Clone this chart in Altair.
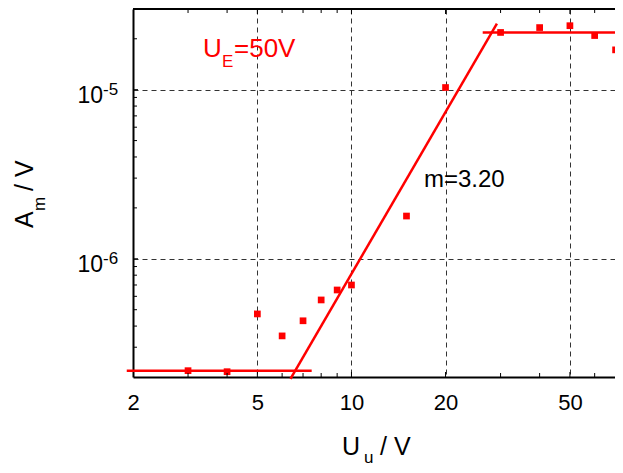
import altair as alt
import pandas as pd

# ---- data ----
u_u = [3, 4, 5, 6, 7, 8, 9, 10, 15, 20, 30, 40, 50, 60, 70]
a_m = [2.18e-7, 2.15e-7, 4.72e-7, 3.5e-7, 4.3e-7, 5.71e-7, 6.54e-7, 7.0e-7,
       1.79e-6, 1.03e-5, 2.18e-5, 2.33e-5, 2.39e-5, 2.09e-5, 1.72e-5]

fit_seg = ["low", "low", "slope", "slope", "high", "high"]
fit_x = [1.91, 7.46, 6.38, 29.2, 26.3, 74]
fit_y = [2.18e-7, 2.18e-7, 1.95e-7, 2.46e-5, 2.18e-5, 2.18e-5]

x_labels = [2, 5, 10, 20, 50]
x_major_ticks = [5, 10, 20, 50]
x_minor_ticks = [3, 4, 6, 7, 8, 9, 30, 40, 60, 70]
y_major = [1e-6, 1e-5]
y_exp = ["-6", "-5"]
y_minor_ticks = [3e-7, 4e-7, 5e-7, 6e-7, 7e-7, 8e-7, 9e-7,
                 2e-6, 3e-6, 4e-6, 5e-6, 6e-6, 7e-6, 8e-6, 9e-6, 2e-5]

W, H = 482, 368
RED = "#ff0000"
FONT = "Liberation Sans"

xs = alt.Scale(type="log", domain=[2, 69.7], nice=False)
ys = alt.Scale(type="log", domain=[2e-7, 3e-5], nice=False)

x_axis = alt.Axis(values=x_labels, format="d", title=None, grid=True,
                  gridDash=[5, 4], gridColor="#333333", gridWidth=1,
                  ticks=False, tickSize=0, domainColor="black", domainWidth=2,
                  labelFont=FONT, labelFontSize=22, labelColor="black",
                  labelPadding=15, labelFlush=False, labelOverlap=False)
y_axis = alt.Axis(values=y_major, labels=False, title=None, grid=True,
                  gridDash=[5, 4], gridColor="#333333", gridWidth=1,
                  ticks=False, tickSize=0, domainColor="black", domainWidth=2)

X = lambda: alt.X("x:Q", scale=xs, axis=x_axis)
Y = lambda: alt.Y("y:Q", scale=ys, axis=y_axis)

pts = alt.Chart(pd.DataFrame({"x": u_u, "y": a_m})).mark_square(
    size=45, color=RED, opacity=1, clip=False).encode(x=X(), y=Y())

fits = alt.Chart(pd.DataFrame({"x": fit_x, "y": fit_y, "s": fit_seg})).mark_line(
    color=RED, strokeWidth=2.5, clip=False).encode(x=X(), y=Y(), detail="s:N")

def xticks(vals, top, length):
    df = pd.DataFrame({"x": vals})
    if top:
        yv, y2v = 0, length
    else:
        yv, y2v = H, H - length
    return alt.Chart(df).mark_rule(color="black", strokeWidth=1).encode(
        x=X(), y=alt.value(yv), y2=alt.value(y2v))

def yticks(vals, length):
    df = pd.DataFrame({"y": vals})
    return alt.Chart(df).mark_rule(color="black", strokeWidth=1).encode(
        y=Y(), x=alt.value(0), x2=alt.value(length))

top_border = alt.Chart(pd.DataFrame({"a": [0]})).mark_rule(
    color="black", strokeWidth=2).encode(
    x=alt.value(0), x2=alt.value(W), y=alt.value(0))

ylab10 = alt.Chart(pd.DataFrame({"y": y_major, "t": ["10", "10"]})).mark_text(
    font=FONT, fontSize=23, color="black", align="right", baseline="alphabetic",
    dy=13).encode(y=Y(), x=alt.value(-30), text="t:N")
ylabexp = alt.Chart(pd.DataFrame({"y": y_major, "t": y_exp})).mark_text(
    font=FONT, fontSize=17, color="black", align="left", baseline="alphabetic",
    dy=5).encode(y=Y(), x=alt.value(-30), text="t:N")

def txt(s, x, y, size, color="black", angle=0):
    return alt.Chart(pd.DataFrame({"t": [s]})).mark_text(
        font=FONT, fontSize=size, color=color, align="left",
        baseline="alphabetic", angle=angle).encode(
        x=alt.value(x), y=alt.value(y), text="t:N")

texts = [
    txt("U", 70, 48, 26, RED), txt("E", 89, 58, 17, RED), txt("=50V", 101, 48, 26, RED),
    txt("m=3.20", 291, 178, 24),
    txt("U", 209, 446, 25), txt("u", 231, 453.5, 17), txt("/ V", 247, 446, 25),
    txt("A", -100, 219, 25, angle=270), txt("m", -88, 202, 17, angle=270),
    txt("/ V", -100, 182, 25, angle=270),
]

chart = alt.layer(
    pts, fits,
    xticks(x_major_ticks, False, 5), xticks(x_minor_ticks, False, 4),
    xticks(x_major_ticks, True, 5), xticks(x_minor_ticks, True, 4),
    yticks(y_major, 5), yticks(y_minor_ticks, 4),
    top_border, ylab10, ylabexp, *texts
).properties(
    width=W, height=H,
    padding={"left": 125, "top": 1, "right": 0, "bottom": 88},
    autosize=alt.AutoSizeParams(type="none"),
    background="white",
).configure_view(stroke=None)

chart.save("out.html", embed_options={"renderer": "svg", "actions": False})
